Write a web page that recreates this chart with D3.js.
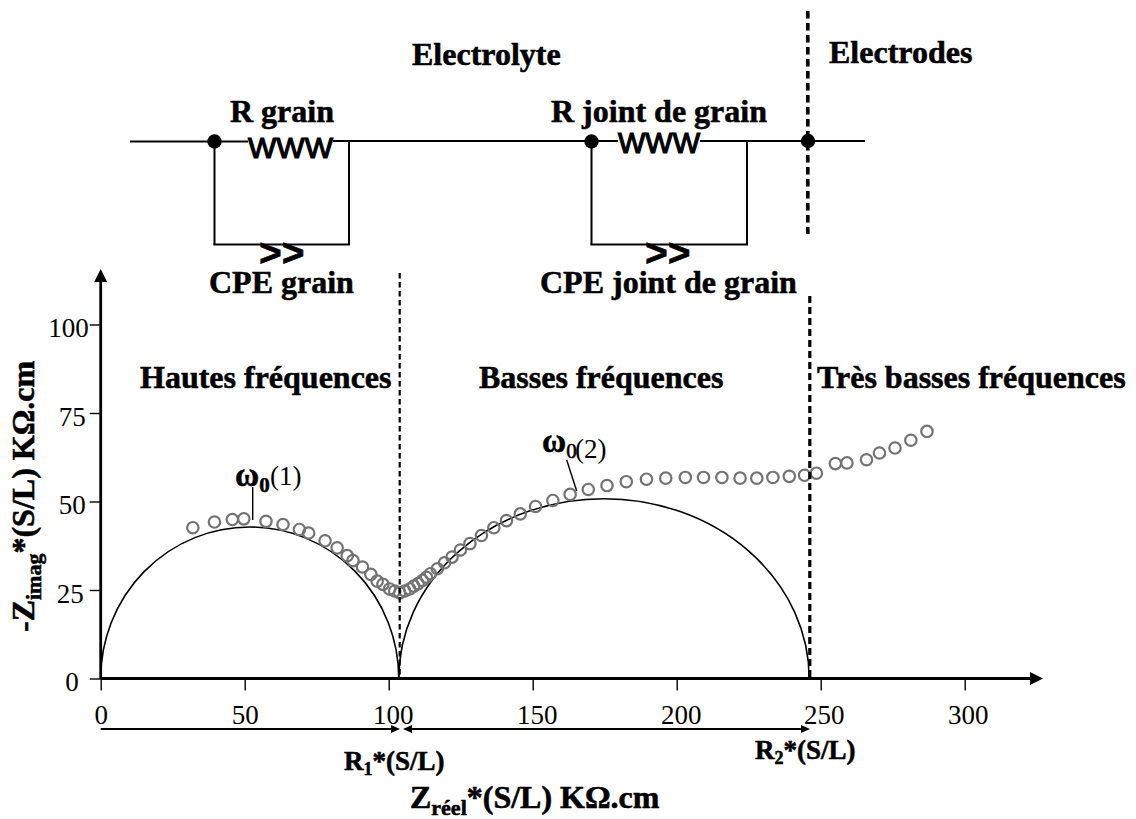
<!DOCTYPE html>
<html><head><meta charset="utf-8">
<script src="https://cdn.jsdelivr.net/npm/d3@7"></script>
<style>html,body{margin:0;padding:0;background:#fff}svg{display:block}</style>
</head><body><div id="chart"></div>
<script>
const zReal = [32.0,39.5,45.7,49.7,57.4,63.3,69.0,72.2,77.9,82.1,85.6,87.6,90.9,93.8,96.0,98.0,100.3,102.1,103.8,105.6,107.3,108.7,110.2,111.7,113.1,114.5,116.9,119.4,122.0,124.9,128.2,132.2,136.5,140.9,145.7,151.0,157.0,163.0,169.3,175.8,182.5,189.5,196.2,203.0,209.3,215.7,222.0,227.8,233.4,239.1,244.4,248.5,255.1,259.1,265.9,270.4,275.8,281.3,286.9];
const zImag = [42.6,44.2,44.9,45.1,44.4,43.5,42.1,41.1,38.9,36.9,34.7,33.3,31.5,29.4,27.5,26.6,25.3,24.7,24.2,24.7,25.3,26.1,26.8,27.7,28.6,29.6,31.0,32.7,34.3,36.3,38.1,40.4,42.6,44.6,46.5,48.6,50.3,52.0,53.4,54.5,55.6,56.3,56.6,56.8,56.8,56.8,56.6,56.6,56.8,57.1,57.4,58.0,60.7,60.9,61.8,63.7,65.1,67.3,69.8];
const arcStart = [0,103.5];
const arcEnd = [103.5,246];
const arcHeight = [42.8,50.8];
const xTicks = [0,50,100,150,200,250,300];
const yTicks = [0,25,50,75,100];
const xLabelShift = [0,0,4,4,4,3,3];
const yLabelShift = [-10,-5,-3,-3,0];
const SERIF = "'Liberation Serif','Times New Roman',serif";
const SANS = "'Liberation Sans',Arial,sans-serif";

const svg = d3.select("#chart").append("svg").attr("width",1136).attr("height",819);
const x = d3.scaleLinear().domain([0,300]).range([100.7,964.7]);
const y = d3.scaleLinear().domain([0,100]).range([678.5,324.5]);

function label(parts, px, py, size, opts={}){
  const weight = opts.weight||"bold";
  const stroke = opts.stroke!==undefined ? opts.stroke : (weight==="bold"?0.55:0);
  const t = svg.append("text").attr("x",px).attr("y",py)
    .attr("font-family",opts.family||SERIF).attr("font-size",size)
    .attr("font-weight",weight).attr("fill","#000");
  if(opts.rotate) t.attr("transform",`rotate(${opts.rotate} ${px} ${py})`);
  if(stroke) t.attr("stroke","#000").attr("stroke-width",stroke);
  [].concat(parts).forEach(p=>{
    if(typeof p==="string"){ t.append("tspan").text(p); return; }
    const s=t.append("tspan").text(p.t);
    if(p.size) s.attr("font-size",p.size);
    if(p.dy) s.attr("dy",p.dy);
    if(p.weight) s.attr("font-weight",p.weight);
    if(p.dx) s.attr("dx",p.dx);
  });
  return t;
}
function seg(x1,y1,x2,y2,w=2,dash=null,color="#000"){
  const l=svg.append("line").attr("x1",x1).attr("y1",y1).attr("x2",x2).attr("y2",y2)
    .attr("stroke",color).attr("stroke-width",w);
  if(dash) l.attr("stroke-dasharray",dash);
  return l;
}
function head(tipX,tipY,dir,len,half){
  const pts = dir==="right" ? [[tipX,tipY],[tipX-len,tipY-half],[tipX-len,tipY+half]]
    : dir==="left" ? [[tipX,tipY],[tipX+len,tipY-half],[tipX+len,tipY+half]]
    : [[tipX,tipY],[tipX-half,tipY+len],[tipX+half,tipY+len]];
  svg.append("polygon").attr("points",pts.join(" ")).attr("fill","#000");
}

// axes
const xa = svg.append("g").attr("transform",`translate(0,${y(0)})`)
  .call(d3.axisBottom(x).tickValues(xTicks).tickSize(12).tickPadding(14));
xa.select(".domain").remove();
xa.selectAll("line").attr("stroke-width",1.4);
xa.selectAll("text").attr("font-family",SERIF).attr("font-size",27).attr("fill","#000")
  .attr("dx",(d,i)=>xLabelShift[i]);
const ya = svg.append("g").attr("transform",`translate(${x(0)},0)`)
  .call(d3.axisLeft(y).tickValues(yTicks).tickSize(11).tickPadding(1));
ya.select(".domain").remove();
ya.selectAll("line").attr("stroke-width",1.4);
ya.selectAll("text").attr("font-family",SERIF).attr("font-size",27).attr("fill","#000")
  .attr("dx",(d,i)=>yLabelShift[i]).attr("dy","0.46em");
seg(x(0),y(0),1032,y(0),2.8);
head(1043,y(0),"right",13,6.5);
seg(x(0),y(0),x(0),280,2.8);
head(x(0),269,"up",13,6.5);

// fitted semicircles
svg.append("g").selectAll("path").data(arcStart).join("path")
  .attr("fill","none").attr("stroke","#000").attr("stroke-width",1.6)
  .attr("d",(d,i)=>{
    const rx=(x(arcEnd[i])-x(d))/2, ry=y(0)-y(arcHeight[i]);
    return `M${x(d)},${y(0)}A${rx},${ry} 0 0 1 ${x(arcEnd[i])},${y(0)}`;
  });

// measured points
svg.append("g").selectAll("circle").data(zReal).join("circle")
  .attr("cx",d=>x(d)).attr("cy",(d,i)=>y(zImag[i])).attr("r",5.7)
  .attr("fill","none").attr("stroke","#737373").attr("stroke-width",2.2);

// dashed separators
seg(399.7,273,399.7,678,2.2,"5.5 3.5");
seg(807.8,11,807.8,234,3.6,"7.5 4.5");
seg(809.8,296,809.8,678,3.2,"7 4");

// circuit
seg(130,141.5,248,141.5,2);
seg(333,141,618,141,2);
seg(700,141,865,141,2);
[[214.5,349,591.5,747]].forEach(([a,b,c,e])=>{
  seg(a,141,a,245,2); seg(b,141,b,245,2); seg(a-1,244.5,b+1,244.5,2);
  seg(c,141,c,245,2); seg(e,141,e,245,2); seg(c-1,244.5,e+1,244.5,2);
});
[[214.5,141.5],[591.5,141.5],[808,141]].forEach(([a,b])=>
  svg.append("circle").attr("cx",a).attr("cy",b).attr("r",7.2).attr("fill","#000"));
label("WWW",248,158,30,{family:SANS,weight:"normal",stroke:1.2});
label("WWW",618,153,29,{family:SANS,weight:"normal",stroke:1.2});
label(">>",259,266,39,{family:SANS});
label(">>",645,266,39,{family:SANS});

// titles
label("Electrolyte",412,65,32);
label("Electrodes",829,63,32);
label("R grain",230,122,32);
label("R joint de grain",551,122,32);
label("CPE grain",209,293,32);
label("CPE joint de grain",540,293,32);
label("Hautes fréquences",140,388,32);
label("Basses fréquences",479,388,32);
label("Très basses fréquences",817,388,32);

// peaks
label(["ω",{t:"0",size:21,dy:6}],235,486,33);
label("(1)",270,485,27,{weight:"normal"});
seg(252.7,487,252.7,520,1.4);
label(["ω",{t:"0",size:21,dy:6,weight:"normal"}],542,452,33);
label("(2)",575,458,27,{weight:"normal"});
seg(566.7,460,576.7,491,1.4);

// resistance spans
seg(x(0),729,392,729,2.2); head(400,729,"right",9,4);
seg(411,729,802,729,2.2); head(403,729,"left",9,4); head(810,729,"right",9,4);
label(["R",{t:"1",size:18,dy:5},{t:"*(S/L)",dy:-5}],344,770,27);
label(["R",{t:"2",size:18,dy:5},{t:"*(S/L)",dy:-5}],755,759,27);

// axis titles
label(["Z",{t:"réel",size:22,dy:7},{t:"*(S/L) KΩ.cm",dy:-7}],410,808,32);
label(["-Z",{t:"imag",size:22,dy:7},{t:"*(S/L) KΩ.cm",dy:-7}],34,632,32,{rotate:-90});
</script></body></html>
